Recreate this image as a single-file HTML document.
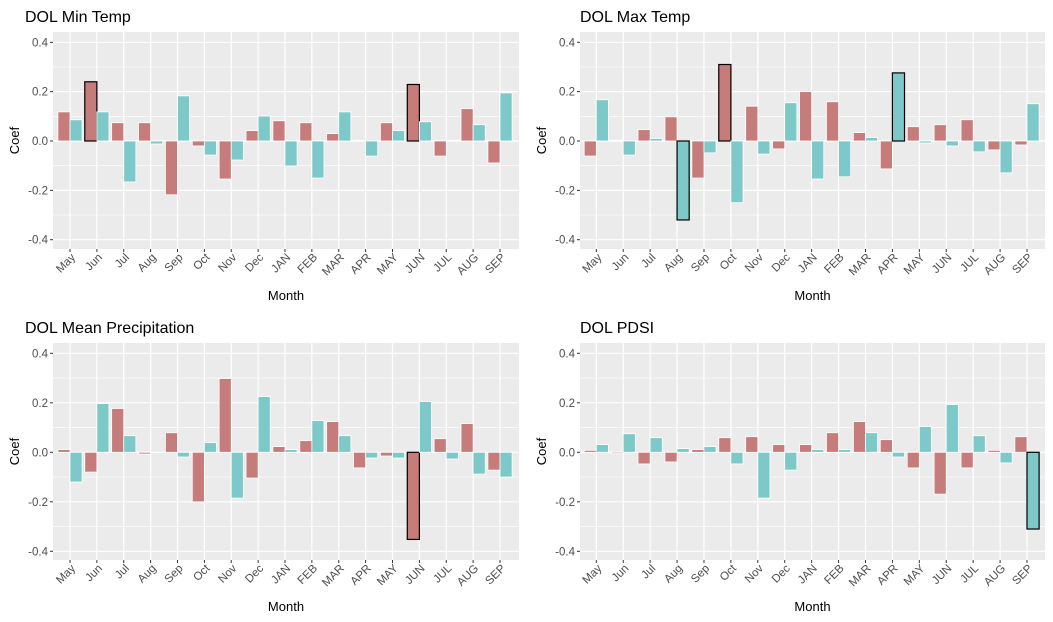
<!DOCTYPE html>
<html><head><meta charset="utf-8"><style>
body{margin:0;background:#fff}
svg{display:block;font-family:"Liberation Sans",Arial,sans-serif}
</style></head><body>
<svg id="chart" width="1053" height="622"></svg>
<script>
const months = ["May","Jun","Jul","Aug","Sep","Oct","Nov","Dec","JAN","FEB","MAR","APR","MAY","JUN","JUL","AUG","SEP"];
const yTicks = [-0.4,-0.2,0,0.2,0.4];
const yTickLabels = ["-0.4","-0.2","0.0","0.2","0.4"];
const titles = ["DOL Min Temp","DOL Max Temp","DOL Mean Precipitation","DOL PDSI"];
const minTempRed  = [0.118,0.24,0.074,0.074,-0.218,-0.02,-0.154,0.042,0.082,0.074,0.03,0.003,0.074,0.229,-0.061,0.131,-0.089];
const minTempCyan = [0.086,0.118,-0.166,-0.012,0.183,-0.057,-0.077,0.101,-0.101,-0.15,0.118,-0.061,0.042,0.078,0.003,0.066,0.195];
const maxTempRed  = [-0.061,0.003,0.046,0.098,-0.15,0.31,0.141,-0.032,0.2,0.159,0.034,-0.113,0.058,0.066,0.086,-0.036,-0.016];
const maxTempCyan = [0.167,-0.057,0.01,-0.32,-0.048,-0.25,-0.053,0.155,-0.154,-0.145,0.014,0.276,-0.008,-0.02,-0.044,-0.129,0.151];
const precipRed   = [0.011,-0.08,0.177,-0.007,0.079,-0.2,0.298,-0.104,0.023,0.047,0.124,-0.063,-0.015,-0.352,0.055,0.116,-0.072];
const precipCyan  = [-0.12,0.197,0.067,0,-0.019,0.039,-0.185,0.225,0.011,0.128,0.067,-0.023,-0.023,0.205,-0.027,-0.088,-0.1];
const pdsiRed     = [0.008,-0.005,-0.047,-0.039,0.011,0.059,0.063,0.031,0.031,0.079,0.124,0.051,-0.063,-0.169,-0.063,0.008,0.063];
const pdsiCyan    = [0.031,0.075,0.059,0.015,0.023,-0.047,-0.185,-0.072,0.011,0.011,0.079,-0.019,0.104,0.193,0.067,-0.043,-0.31];
// highlighted bars: [series ('r'/'c'), month index]
const hlMin = [["r",1],["r",13]];
const hlMax = [["r",5],["c",3],["c",11]];
const hlPrecip = [["r",13]];
const hlPdsi = [["c",16]];

const NS="http://www.w3.org/2000/svg";
const svg=document.getElementById('chart');
function el(tag,attrs,parent,text){const e=document.createElementNS(NS,tag);for(const k in attrs)e.setAttribute(k,attrs[k]);if(text!==undefined)e.textContent=text;(parent||svg).appendChild(e);return e;}

const panels=[
 {name:"min-temp",x0:53,x1:519,y0:32,y1:249,xMay:70,xSep:500,yZero:141,yTop:42.3,red:minTempRed,cyan:minTempCyan,hl:hlMin,title:titles[0],tx:25,ty:22},
 {name:"max-temp",x0:580,x1:1045,y0:32,y1:249,xMay:596.3,xSep:1027,yZero:141,yTop:42.3,red:maxTempRed,cyan:maxTempCyan,hl:hlMax,title:titles[1],tx:580,ty:22},
 {name:"mean-precip",x0:53,x1:519,y0:343,y1:560,xMay:70,xSep:500,yZero:452.3,yTop:353.3,red:precipRed,cyan:precipCyan,hl:hlPrecip,title:titles[2],tx:25,ty:333},
 {name:"pdsi",x0:580,x1:1045,y0:343,y1:560,xMay:596.3,xSep:1027,yZero:452.3,yTop:353.3,red:pdsiRed,cyan:pdsiCyan,hl:hlPdsi,title:titles[3],tx:580,ty:333}
];

panels.forEach(p=>{
  const g=el('g',{});
  
  
  const step=(p.xSep-p.xMay)/(months.length-1);
  const xs=i=>p.xMay+i*step;
  const scale=(p.yZero-p.yTop)/0.4;
  const ys=v=>p.yZero-v*scale;
  const bg=el('rect',{x:p.x0,y:p.y0,width:p.x1-p.x0,height:p.y1-p.y0,fill:'#ebebeb'},g);
  
  
  [-0.3,-0.1,0.1,0.3].forEach(v=>el('line',{x1:p.x0,x2:p.x1,y1:ys(v),y2:ys(v),stroke:'#fff','stroke-width':0.6},g));
  yTicks.forEach(v=>el('line',{x1:p.x0,x2:p.x1,y1:ys(v),y2:ys(v),stroke:'#fff','stroke-width':1.2},g));
  months.forEach((m,i)=>el('line',{x1:xs(i),x2:xs(i),y1:p.y0,y2:p.y1,stroke:'#fff','stroke-width':1.2},g));
  const bw=step*0.45;
  const hlSet=new Set(p.hl.map(h=>h[0]+h[1]));
  const drawBar=(v,i,ser)=>{
    const x=ser==='r'?xs(i)-bw:xs(i);
    const y=Math.min(ys(v),ys(0)), h=Math.abs(ys(v)-ys(0));
    const hl=hlSet.has(ser+i);
    const r=el('rect',{x:x,y:y,width:bw,height:Math.max(h,0.3),fill:ser==='r'?'#c67c7a':'#7dc8c9',stroke:hl?'#000':'#fff','stroke-width':hl?1.2:0.8},g);
    
    
  };
  p.red.forEach((v,i)=>drawBar(v,i,'r'));
  p.cyan.forEach((v,i)=>drawBar(v,i,'c'));
  yTicks.forEach((v,k)=>{
    el('line',{x1:p.x0-3,x2:p.x0,y1:ys(v),y2:ys(v),stroke:'#333','stroke-width':1},g);
    const t=el('text',{x:p.x0-5,y:ys(v)+4,'text-anchor':'end','font-size':11.5,fill:'#4d4d4d'},g,yTickLabels[k]);
    
    
  });
  months.forEach((m,i)=>{
    el('line',{x1:xs(i),x2:xs(i),y1:p.y1,y2:p.y1+3,stroke:'#333','stroke-width':1},g);
    const ax=xs(i)+6, ay=p.y1+9;
    const t=el('text',{x:ax,y:ay,'text-anchor':'end','font-size':11.5,fill:'#4d4d4d',transform:`rotate(-45 ${ax} ${ay})`},g,m);
    
    
  });
  const tt=el('text',{x:p.tx,y:p.ty,'font-size':16,fill:'#000'},g,p.title);
  
  
  const cy=(p.y0+p.y1)/2, lx=p.x0-34;
  const yl=el('text',{x:lx,y:cy,'text-anchor':'middle','font-size':13,fill:'#000',transform:`rotate(-90 ${lx} ${cy})`},g,'Coef');
  
  
  const xl=el('text',{x:(p.x0+p.x1)/2,y:p.y1+51,'text-anchor':'middle','font-size':13,fill:'#000'},g,'Month');
  
  
});
</script>
</body></html>
